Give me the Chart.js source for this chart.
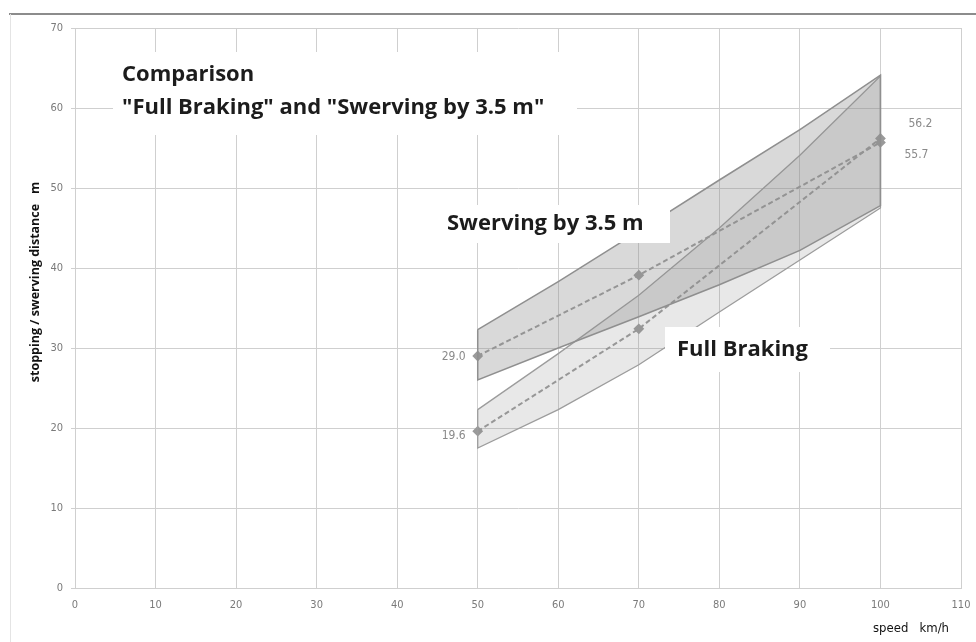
<!DOCTYPE html>
<html>
<head>
<meta charset="utf-8">
<script src="https://cdn.jsdelivr.net/npm/chart.js@4/dist/chart.umd.min.js"></script>
<style>
    html, body { margin: 0; padding: 0; background: #fff; }
</style>
</head>
<body>
<canvas id="printChartId" width="976" height="642"></canvas>
<script>
// velocidades donde se conocen los limites de las bandas (km/h)
var velocidades = [50, 60, 70, 80, 90, 100];

// banda frenado total (m)
var frenadoMax = [22.3, 29.3, 36.6, 45.0, 54.1, 64.0];
var frenadoMin = [17.5, 22.3, 27.9, 34.5, 41.0, 47.5];

// banda esquivar 3.5 m (m)
var esquiveMax = [32.3, 38.3, 44.6, 51.0, 57.3, 64.1];
var esquiveMin = [26.0, 30.0, 33.9, 37.9, 42.2, 47.8];

// valores medios
var velMedias = [50, 70, 100];
var frenadoMedio = [19.6, 32.4, 56.2];
var esquiveMedio = [29.0, 39.1, 55.7];

// ejes
var ticksX = [0, 10, 20, 30, 40, 50, 60, 70, 80, 90, 100, 110];
var ticksY = [0, 10, 20, 30, 40, 50, 60, 70];

var tituloX = "speed   km/h";
var tituloY = "stopping / swerving distance   m";
var titulo = ["Comparison", "\"Full Braking\" and \"Swerving by 3.5 m\""];

var gris = "#9a9a9a";

// recorre el borde superior y vuelve por el inferior
function poligono(vel, sup, inf) {
    var pts = [];
    for (var i = 0; i < vel.length; i++) {
        pts.push({ x: vel[i], y: sup[i] });
    }
    for (var j = vel.length - 1; j >= 0; j--) {
        pts.push({ x: vel[j], y: inf[j] });
    }
    pts.push({ x: vel[0], y: sup[0] });
    return pts;
}

function puntos(vel, val) {
    var pts = [];
    for (var i = 0; i < vel.length; i++) {
        pts.push({ x: vel[i], y: val[i] });
    }
    return pts;
}

var dataset = [
    {
        label: "Swerving band",
        data: poligono(velocidades, esquiveMax, esquiveMin),
        showLine: true,
        fill: "shape",
        backgroundColor: "rgba(140,140,140,0.33)",
        borderColor: "#8f8f8f",
        borderWidth: 1.5,
        pointRadius: 0,
        tension: 0
    },
    {
        label: "Braking band",
        data: poligono(velocidades, frenadoMax, frenadoMin),
        showLine: true,
        fill: "shape",
        backgroundColor: "rgba(140,140,140,0.2)",
        borderColor: "#9c9c9c",
        borderWidth: 1.3,
        pointRadius: 0,
        tension: 0
    },
    {
        label: "Swerving",
        data: puntos(velMedias, esquiveMedio),
        showLine: true,
        fill: false,
        borderColor: gris,
        borderWidth: 2,
        borderDash: [5, 3],
        pointStyle: "rectRot",
        pointRadius: 4,
        pointBackgroundColor: gris,
        pointBorderColor: gris,
        etiquetas: [[-12, 1, "right"], null, [24, 12, "left"]]
    },
    {
        label: "Full Braking",
        data: puntos(velMedias, frenadoMedio),
        showLine: true,
        fill: false,
        borderColor: gris,
        borderWidth: 2,
        borderDash: [5, 3],
        pointStyle: "rectRot",
        pointRadius: 4,
        pointBackgroundColor: gris,
        pointBorderColor: gris,
        etiquetas: [[-12, 5, "right"], null, [28, -15, "left"]]
    }
];

// cajas de texto sobre el grafico
var notas = [
    { caja: [113, 52, 464, 83], lineas: titulo, x: 122, y: [75, 108] },
    { caja: [432, 205, 238, 38], lineas: ["Swerving by 3.5 m"], x: 447, y: [224] },
    { caja: [665, 327, 165, 45], lineas: ["Full Braking"], x: 677, y: [350] }
];

var pluginNotas = {
    id: "notas",
    beforeDraw: function (chart) {
        var ctx = chart.ctx;
        ctx.save();
        ctx.fillStyle = "#fff";
        ctx.fillRect(0, 0, chart.width, chart.height);
        // marco
        ctx.strokeStyle = "#8c8c8c";
        ctx.lineWidth = 2;
        ctx.beginPath();
        ctx.moveTo(9, 14);
        ctx.lineTo(chart.width, 14);
        ctx.stroke();
        ctx.strokeStyle = "#e4e4e4";
        ctx.lineWidth = 1;
        ctx.beginPath();
        ctx.moveTo(10.5, 14);
        ctx.lineTo(10.5, chart.height);
        ctx.stroke();
        ctx.restore();
    },
    afterDatasetsDraw: function (chart) {
        var ctx = chart.ctx;
        ctx.save();

        // etiquetas de valor
        ctx.font = "12px 'Liberation Sans Narrow', 'DejaVu Sans Condensed', sans-serif";
        ctx.fillStyle = "#8a8a8a";
        ctx.textBaseline = "middle";
        chart.data.datasets.forEach(function (ds, i) {
            if (!ds.etiquetas) return;
            var meta = chart.getDatasetMeta(i);
            meta.data.forEach(function (p, k) {
                var e = ds.etiquetas[k];
                if (!e) return;
                ctx.textAlign = e[2];
                ctx.fillText(ds.data[k].y.toFixed(1), p.x + e[0], p.y + e[1]);
            });
        });

        // cajas blancas con texto
        ctx.font = "bold 22px 'Open Sans', Lato, sans-serif";
        ctx.textAlign = "left";
        notas.forEach(function (n) {
            ctx.fillStyle = "#fff";
            ctx.fillRect(n.caja[0], n.caja[1], n.caja[2], n.caja[3]);
            ctx.fillStyle = "#1c1c1c";
            n.lineas.forEach(function (t, k) {
                ctx.fillText(t, n.x, n.y[k]);
            });
        });

        // titulos de ejes
        ctx.fillStyle = "#111";
        ctx.font = "bold 12.5px 'Open Sans', sans-serif";
        ctx.textAlign = "center";
        ctx.save();
        ctx.translate(35, 282);
        ctx.rotate(-Math.PI / 2);
        ctx.fillText(tituloY, 0, 0);
        ctx.restore();
        ctx.font = "13px 'Liberation Sans Narrow', 'DejaVu Sans Condensed', sans-serif";
        ctx.textAlign = "right";
        ctx.fillText(tituloX, 949, 629);

        ctx.restore();
    }
};

var fuenteTicks = { family: "'Liberation Sans Narrow', 'DejaVu Sans Condensed', sans-serif", size: 11 };

var barChart = new Chart(document.getElementById("printChartId"), {
    type: "scatter",
    data: { datasets: dataset },
    plugins: [pluginNotas],
    options: {
        responsive: false,
        animation: false,
        layout: { padding: { left: 0, top: 28, right: 15, bottom: 0 } },
        plugins: {
            legend: { display: false },
            tooltip: { enabled: false }
        },
        scales: {
            x: {
                type: "linear",
                min: ticksX[0],
                max: ticksX[ticksX.length - 1],
                afterBuildTicks: function (scale) {
                    scale.ticks = ticksX.map(function (v) { return { value: v }; });
                },
                afterFit: function (scale) {
                    scale.height = 54;
                    scale.paddingLeft = 0;
                    scale.paddingRight = 0;
                },
                grid: { color: "#cfcfcf", drawTicks: false },
                border: { color: "#cfcfcf" },
                ticks: { color: "#7a7a7a", font: fuenteTicks, padding: 11, maxRotation: 0 }
            },
            y: {
                type: "linear",
                min: ticksY[0],
                max: ticksY[ticksY.length - 1],
                afterBuildTicks: function (scale) {
                    scale.ticks = ticksY.map(function (v) { return { value: v }; });
                },
                afterFit: function (scale) {
                    scale.width = 75;
                    scale.paddingTop = 0;
                    scale.paddingBottom = 0;
                },
                grid: { color: "#cfcfcf", tickLength: 4 },
                border: { color: "#cfcfcf" },
                ticks: { color: "#7a7a7a", font: fuenteTicks, padding: 8 }
            }
        }
    }
});
</script>
</body>
</html>
